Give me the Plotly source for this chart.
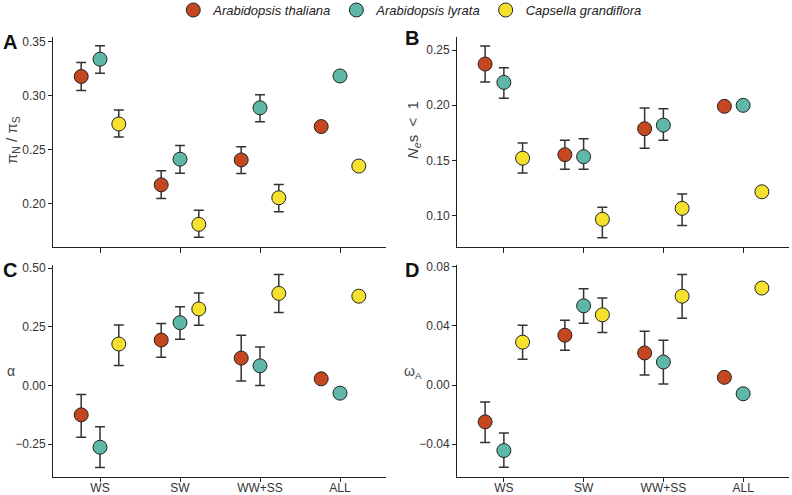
import plotly.graph_objects as go

categories = ["WS", "SW", "WW+SS", "ALL"]
species = ["Arabidopsis thaliana", "Arabidopsis lyrata", "Capsella grandiflora"]
colors = ["#C4471F", "#5FB7A7", "#F6E12E"]

# Panel A: piN/piS
A_val = [[0.318, 0.2176, 0.2407, 0.2716], [0.334, 0.2414, 0.289, 0.3185], [0.274, 0.181, 0.2056, 0.235]]
A_hi = [[0.331, 0.2306, 0.253, None], [0.3466, 0.254, 0.301, None], [0.287, 0.194, 0.218, None]]
A_lo = [[0.305, 0.205, 0.228, None], [0.321, 0.2284, 0.276, None], [0.262, 0.169, 0.1926, None]]
# Panel B: Nes < 1
B_val = [[0.2373, 0.1552, 0.1787, 0.199], [0.2207, 0.1534, 0.182, 0.1999], [0.152, 0.0967, 0.1066, 0.1216]]
B_hi = [[0.2536, 0.1682, 0.1975, None], [0.234, 0.1697, 0.1969, None], [0.1658, 0.1075, 0.1195, None]]
B_lo = [[0.221, 0.142, 0.161, None], [0.2063, 0.142, 0.1682, None], [0.1386, 0.080, 0.091, None]]
# Panel C: alpha
C_val = [[-0.125, 0.194, 0.117, 0.0286], [-0.263, 0.268, 0.084, -0.0325], [0.177, 0.3265, 0.393, 0.381]]
C_hi = [[-0.038, 0.265, 0.214, None], [-0.176, 0.336, 0.164, None], [0.2585, 0.395, 0.474, None]]
C_lo = [[-0.220, 0.121, 0.019, None], [-0.349, 0.197, 0.0, None], [0.0855, 0.257, 0.311, None]]
# Panel D: omegaA
D_val = [[-0.0249, 0.0337, 0.0217, 0.0052], [-0.0443, 0.0536, 0.0156, -0.0059], [0.029, 0.0475, 0.0601, 0.0656]]
D_hi = [[-0.0115, 0.0439, 0.0364, None], [-0.0325, 0.0651, 0.0303, None], [0.0405, 0.0588, 0.0748, None]]
D_lo = [[-0.0389, 0.0235, 0.0068, None], [-0.0556, 0.0418, 0.0007, None], [0.0174, 0.0355, 0.0452, None]]

A_ticks = [0.20, 0.25, 0.30, 0.35]
B_ticks = [0.10, 0.15, 0.20, 0.25]
C_ticks = [-0.25, 0.00, 0.25, 0.50]
D_ticks = [-0.04, 0.00, 0.04, 0.08]

offsets = [-0.235, 0.0, 0.235]
W, H = 792, 495

panels = [
    ("x", "y", A_val, A_hi, A_lo, True),
    ("x2", "y2", B_val, B_hi, B_lo, False),
    ("x3", "y3", C_val, C_hi, C_lo, False),
    ("x4", "y4", D_val, D_hi, D_lo, False),
]

fig = go.Figure()
for xa, ya, vals, his, los, show in panels:
    for s in range(3):
        xs = [i + offsets[s] for i in range(len(categories))]
        up = [None if h is None else h - v for h, v in zip(his[s], vals[s])]
        dn = [None if l is None else v - l for l, v in zip(los[s], vals[s])]
        fig.add_trace(go.Scatter(
            x=xs, y=vals[s], mode="markers", name=species[s],
            xaxis=xa, yaxis=ya, showlegend=show,
            marker=dict(size=14, color=colors[s], line=dict(color="#222222", width=1)),
            error_y=dict(type="data", symmetric=False, array=up, arrayminus=dn,
                         color="#333333", thickness=1.5, width=5),
        ))

def px_x(a, b):
    return [a / W, b / W]

def px_y(top, bottom):
    return [(H - bottom) / H, (H - top) / H]

tickfont = dict(family="Liberation Sans, Arial", size=12, color="#333333")
xcommon = dict(range=[-0.5875, 3.575], tickvals=[0, 1, 2, 3], ticktext=categories,
               showline=True, linecolor="#222222", linewidth=1, ticks="outside",
               tickcolor="#222222", showgrid=False, zeroline=False,
               tickfont=tickfont, fixedrange=True)
ycommon = dict(showline=True, linecolor="#222222", linewidth=1, ticks="outside",
               ticklen=4, tickcolor="#222222", showgrid=False, zeroline=False,
               tickfont=tickfont, tickformat=".2f")

fig.update_layout(
    width=W, height=H, margin=dict(l=0, r=0, t=0, b=0, autoexpand=False),
    plot_bgcolor="white", paper_bgcolor="white",
    xaxis=dict(domain=px_x(53, 386), anchor="y", showticklabels=False, ticklen=5, **xcommon),
    yaxis=dict(domain=px_y(37, 247), anchor="x", range=[0.16, 0.3546], tickvals=A_ticks, **ycommon),
    xaxis2=dict(domain=px_x(457, 789), anchor="y2", showticklabels=False, ticklen=5, **xcommon),
    yaxis2=dict(domain=px_y(37, 247), anchor="x2", range=[0.0716, 0.2618], tickvals=B_ticks, **ycommon),
    xaxis3=dict(domain=px_x(53, 386), anchor="y3", ticklen=4, ticklabelstandoff=-4, **xcommon),
    yaxis3=dict(domain=px_y(265, 477), anchor="x3", range=[-0.39, 0.514], tickvals=C_ticks, **ycommon),
    xaxis4=dict(domain=px_x(457, 789), anchor="y4", ticklen=4, ticklabelstandoff=-4, **xcommon),
    yaxis4=dict(domain=px_y(265, 477), anchor="x4", range=[-0.0622, 0.0812], tickvals=D_ticks, **ycommon),
    legend=dict(orientation="h", x=0.518, xanchor="center", y=1.01, yanchor="top",
                font=dict(family="Liberation Sans, Arial", size=13, color="#222222", style="italic"),
                itemwidth=30, tracegroupgap=0, bgcolor="rgba(0,0,0,0)"),
    font=dict(family="Liberation Sans, Arial"),
)

title_font = dict(family="Liberation Sans, Arial", size=14, color="#444444")
ann = [
    dict(text="π<sub>N</sub> / π<sub>S</sub>", x=12 / W, y=(H - 140) / H, textangle=-90, size=15),
    dict(text="<i>N<sub>e</sub></i>s &nbsp;&lt;&nbsp; 1", x=413 / W, y=(H - 130) / H, textangle=-90, size=15),
    dict(text="α", x=11 / W, y=(H - 371) / H, textangle=0, size=14),
    dict(text="ω<sub>A</sub>", x=413 / W, y=(H - 372) / H, textangle=0, size=14),
]
for a in ann:
    size = a.pop("size")
    f = dict(title_font)
    f["size"] = size
    fig.add_annotation(xref="paper", yref="paper", showarrow=False, font=f,
                       xanchor="center", yanchor="middle", **a)

for lab, x, y in [("A", 10, 42), ("B", 412, 38), ("C", 10, 270), ("D", 412, 270)]:
    fig.add_annotation(text="<b>%s</b>" % lab, xref="paper", yref="paper", x=x / W, y=(H - y) / H,
                       showarrow=False, xanchor="center", yanchor="middle",
                       font=dict(family="Liberation Sans, Arial", size=20, color="#111111"))

fig.write_html("out.html", config={"displayModeBar": False},
               post_script="document.body.style.margin='0';document.body.style.overflow='hidden';")
